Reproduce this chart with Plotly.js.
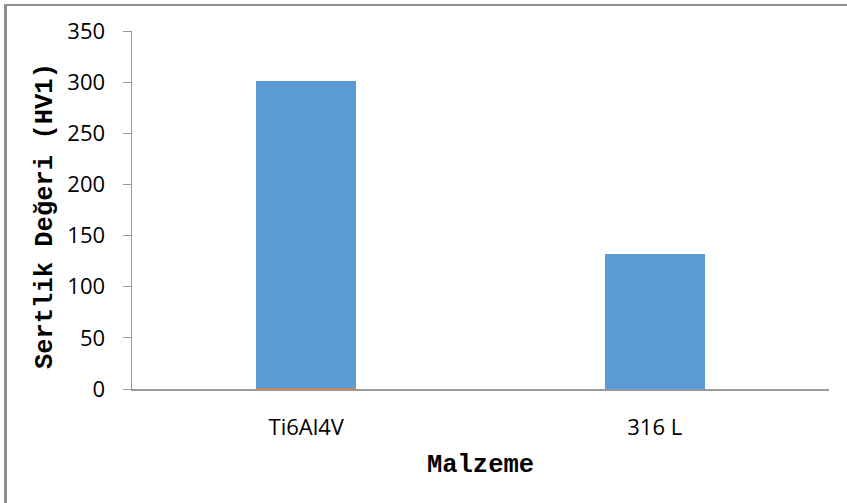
<!DOCTYPE html>
<html><head><meta charset="utf-8">
<script src="https://cdn.plot.ly/plotly-3.0.1.min.js"></script>
<style>
html,body{margin:0;padding:0;background:#fff;}
#wrap{position:absolute;left:0;top:0;width:847px;height:503px;}
#frame{position:absolute;left:4px;top:4px;width:900px;height:600px;border-left:3px solid #8e8e8e;border-top:2px solid #8e8e8e;pointer-events:none;}
#chart{position:absolute;left:0;top:0;width:847px;height:503px;}
</style></head>
<body>
<div id="wrap"><div id="chart"></div><div id="frame"></div></div>
<script>
const categories = ["Ti6Al4V", "316 L"];
const baseSeries = [1, 0];
const hardness = [300, 132];
const yTicks = [0, 50, 100, 150, 200, 250, 300, 350];
const yTitle = 'Sertlik Değeri (HV1)';
const xTitle = 'Malzeme';

const traces = [
  {type:'bar', x:categories, y:baseSeries, marker:{color:'#ED7D31'}, width:0.287, hoverinfo:'none'},
  {type:'bar', x:categories, y:hardness, marker:{color:'#5B9BD5'}, width:0.287, hoverinfo:'none'}
];
const monoTitle = {family:'"Liberation Mono", "DejaVu Sans Mono", monospace', size:25.5, weight:'bold', color:'#000'};
const layout = {
  width:847, height:503,
  margin:{l:132, r:18, t:31, b:114},
  paper_bgcolor:'#fff', plot_bgcolor:'#fff',
  barmode:'stack', showlegend:false,
  font:{family:'"Open Sans", "Noto Sans", sans-serif', size:22, color:'#000'},
  xaxis:{
    type:'category', showline:true, linecolor:'#9a9a9a', linewidth:2,
    ticks:'', showgrid:false, zeroline:false, ticklabelstandoff:18,
    tickfont:{size:22},
    title:{text:xTitle, font:monoTitle, standoff:14}
  },
  yaxis:{
    range:[0,350], tickvals:yTicks, showline:true, linecolor:'#9a9a9a', linewidth:1.5,
    ticks:'outside', ticklen:8, tickcolor:'#9a9a9a', tickwidth:1,
    showgrid:false, zeroline:false, ticklabelstandoff:13,
    tickfont:{size:22}
  },
  annotations:[{
    text:yTitle, font:monoTitle, textangle:-90, showarrow:false,
    xref:'paper', yref:'paper', x:-0.1248, y:0.483, xanchor:'center', yanchor:'middle'
  }]
};
Plotly.newPlot('chart', traces, layout, {displayModeBar:false, staticPlot:true});
</script>
</body></html>
